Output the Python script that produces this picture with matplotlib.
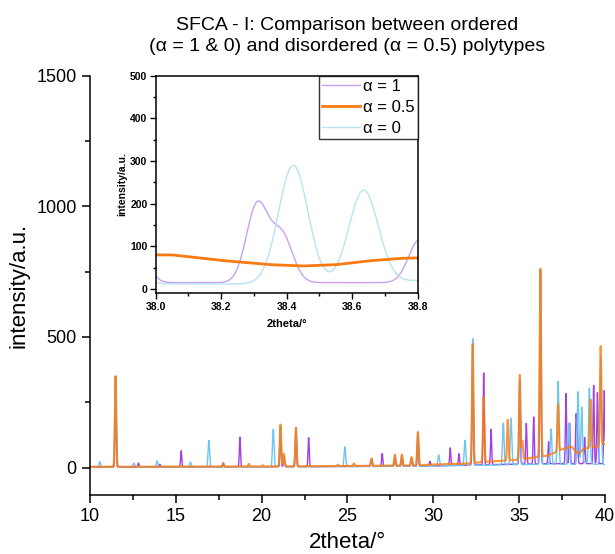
import numpy as np
import matplotlib.pyplot as plt
from matplotlib.ticker import MultipleLocator

plt.rcParams['font.family'] = ['Liberation Sans', 'DejaVu Sans']

# peak positions (2theta, deg) and heights above background
pos_a1 = [11.5, 12.83, 14.08, 15.32, 17.77, 18.74, 21.1, 21.3, 22.0, 22.74,
          26.4, 27.02, 27.76, 28.17, 28.73, 29.1, 29.8, 30.98, 31.49, 32.29,
          32.93, 33.36, 35.03, 35.41, 35.84, 36.23, 36.71, 37.72, 37.93, 38.31,
          38.385, 38.805, 39.33, 39.55, 39.95]
hgt_a1 = [345, 15, 10, 62, 15, 113, 155, 40, 145, 111,
          28, 49, 42, 42, 32, 128, 18, 68, 45, 470,
          352, 135, 320, 156, 180, 740, 84, 268, 155, 182,
          111, 100, 300, 272, 280]

pos_a05 = [11.5, 17.77, 19.26, 20.06, 21.1, 21.3, 22.0, 24.44, 25.38, 26.4,
           27.76, 28.17, 28.73, 29.1, 32.29, 32.93, 34.33, 35.03, 35.18, 36.23,
           37.26, 39.16, 39.74]
hgt_a05 = [347, 12, 10, 5, 160, 48, 148, 5, 10, 28,
           42, 42, 32, 128, 455, 247, 156, 325, 70, 720,
           180, 185, 380]

pos_a0 = [10.58, 11.5, 12.56, 13.92, 15.86, 16.93, 20.68, 21.1, 21.3, 22.0,
          24.85, 26.4, 27.76, 28.17, 28.73, 29.1, 30.31, 31.84, 32.29, 34.07,
          34.52, 35.03, 36.23, 36.85, 37.26, 37.88, 38.42, 38.635, 39.08, 39.74]
hgt_a0 = [20, 345, 15, 23, 18, 101, 143, 155, 40, 145,
          75, 28, 42, 42, 32, 128, 42, 97, 485, 160,
          178, 330, 745, 136, 318, 157, 278, 218, 288, 410]

# background levels
bg_x = [10, 20, 25, 29, 30, 32, 33, 34, 35, 36, 36.6, 37, 37.5, 38.0, 38.05,
        38.2, 38.35, 38.45, 38.55, 38.65, 38.75, 38.8, 39.2, 39.5, 40]
bg_a1 = [2, 3, 4, 5, 6, 9, 11, 12, 13, 14, 15, 15, 15, 15, 15,
         15, 15, 15, 15, 15, 15, 15, 15, 15, 15]
bg_a05 = [3, 4, 6, 8, 12, 15, 22, 26, 30, 40, 45, 55, 70, 80, 80,
          67, 57, 54, 57, 66, 72, 73, 75, 80, 90]
bg_a0 = [2, 3, 4, 5, 6, 8, 9, 10, 11, 12, 12, 12, 12, 12, 12,
         12, 12, 12, 12, 14, 18, 20, 15, 12, 12]

labels = ['α = 1', 'α = 0.5', 'α = 0']


def pattern(x, pos, hgt, bg, w):
    y = np.interp(x, bg_x, bg)
    for p, h in zip(pos, hgt):
        y = y + h * np.exp(-0.5 * ((x - p) / w) ** 2)
    return y


tt = np.arange(10, 40.0001, 0.004)
y1 = pattern(tt, pos_a1, hgt_a1, bg_a1, 0.033)
y05 = pattern(tt, pos_a05, hgt_a05, bg_a05, 0.04)
y0 = pattern(tt, pos_a0, hgt_a0, bg_a0, 0.045)

fig = plt.figure(figsize=(6.15, 5.54), dpi=100)
ax = fig.add_axes([0.146, 0.1065, 0.838, 0.757])
ax.plot(tt, y1, color='#a040e6', lw=1.0)
ax.plot(tt, y0, color='#6cc6ef', lw=1.0)
ax.plot(tt, y05, color='#ff7a0a', lw=1.5, alpha=0.8)
ax.set_xlim(10, 40)
ax.set_ylim(-105, 1500)
ax.xaxis.set_major_locator(MultipleLocator(5))
ax.xaxis.set_minor_locator(MultipleLocator(2.5))
ax.yaxis.set_major_locator(MultipleLocator(500))
ax.yaxis.set_minor_locator(MultipleLocator(250))
ax.spines['top'].set_visible(False)
ax.spines['right'].set_visible(False)
for s in ['left', 'bottom']:
    ax.spines[s].set_linewidth(1.1)
ax.tick_params(which='major', direction='out', length=6, width=1.1, labelsize=13)
ax.tick_params(which='minor', direction='out', length=3.5, width=1.1)
ax.set_xlabel('2theta/°', fontsize=16, labelpad=5)
ax.set_ylabel('intensity/a.u.', fontsize=16, labelpad=5)
ax.set_title('SFCA - I: Comparison between ordered\n(α = 1 & 0) and disordered (α = 0.5) polytypes',
             fontsize=14, pad=18, linespacing=1.25)

# inset: zoom of 38.0-38.8
axi = fig.add_axes([0.2532, 0.4706, 0.426, 0.3928])
l1, = axi.plot(tt, y1, color='#c8a2f0', lw=1.0)
l0, = axi.plot(tt, y0, color='#b8e3f2', lw=1.0)
l05, = axi.plot(tt, y05, color='#f97a10', lw=2.0)
axi.set_xlim(38.0, 38.8)
axi.set_ylim(-10, 500)
axi.xaxis.set_major_locator(MultipleLocator(0.2))
axi.xaxis.set_minor_locator(MultipleLocator(0.1))
axi.yaxis.set_major_locator(MultipleLocator(100))
axi.yaxis.set_minor_locator(MultipleLocator(50))
for s in axi.spines.values():
    s.set_linewidth(1.1)
axi.tick_params(which='major', direction='out', length=4, width=1.0, labelsize=7.5, pad=2)
axi.tick_params(which='minor', direction='out', length=2, width=1.0)
for t in axi.get_xticklabels() + axi.get_yticklabels():
    t.set_fontweight('bold')
axi.set_xlabel('2theta/°', fontsize=8, fontweight='bold', labelpad=5)
axi.set_ylabel('intensity/a.u.', fontsize=7.5, fontweight='bold', labelpad=2)
leg = axi.legend([l1, l05, l0], labels, loc='upper right', fontsize=12,
                 frameon=True, fancybox=False, borderaxespad=0, handlelength=2.3,
                 handletextpad=0.15, borderpad=0.2, labelspacing=0.35)
leg.get_frame().set_edgecolor('black')
leg.get_frame().set_linewidth(1.0)

fig.savefig('out.png', dpi=100)
